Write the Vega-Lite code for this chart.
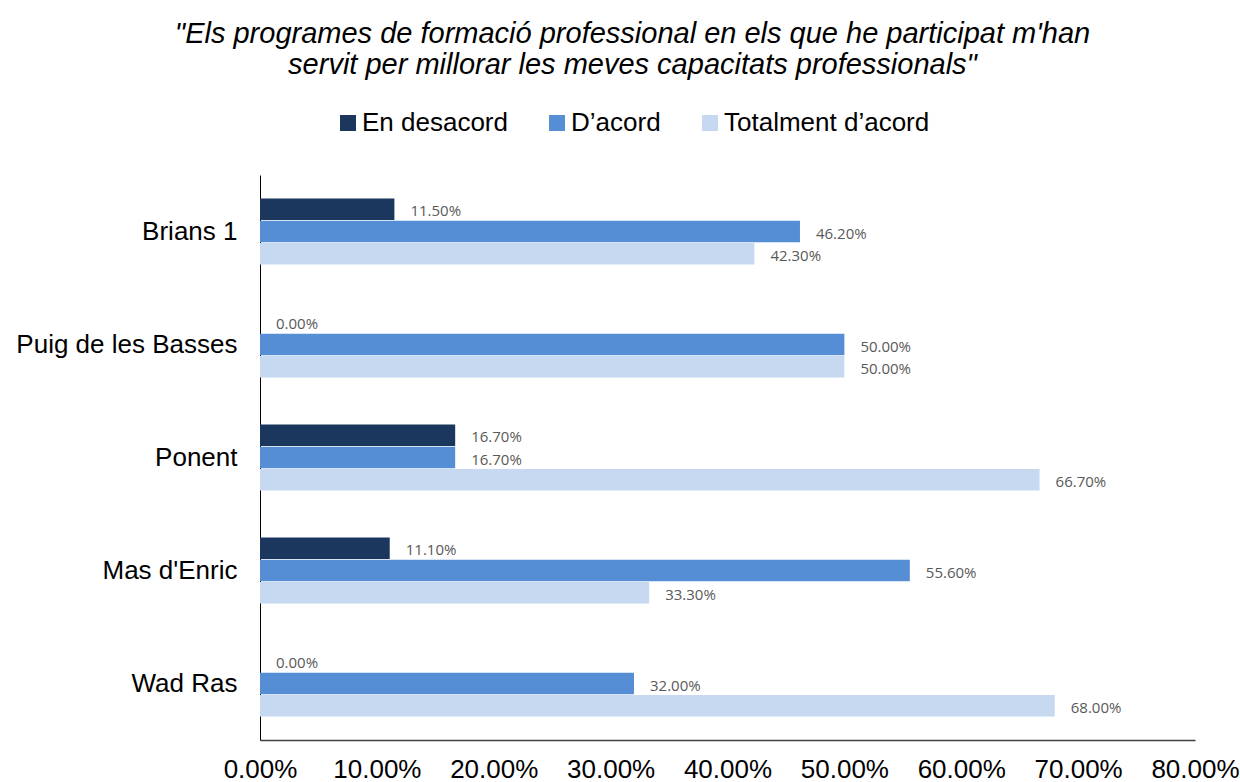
{
  "$schema": "https://vega.github.io/schema/vega-lite/v6.json",
  "autosize": {"type": "none"},
  "padding": {"left": 260, "top": 175, "right": 45, "bottom": 42},
  "width": 935,
  "height": 565,
  "background": "white",
  "title": {
    "text": ["\"Els programes de formació professional en els que he participat m'han", "servit per millorar les meves capacitats professionals\""],
    "font": "Liberation Sans",
    "fontSize": 29,
    "fontStyle": "italic",
    "fontWeight": "normal",
    "lineHeight": 31,
    "color": "#000000",
    "anchor": "middle",
    "dx": -95,
    "offset": 30
  },
  "data": {
    "values": [
      {"centre": "Brians 1", "resposta": "En desacord", "valor": 0.115},
      {"centre": "Brians 1", "resposta": "D’acord", "valor": 0.462},
      {"centre": "Brians 1", "resposta": "Totalment d’acord", "valor": 0.423},
      {"centre": "Puig de les Basses", "resposta": "En desacord", "valor": 0.0},
      {"centre": "Puig de les Basses", "resposta": "D’acord", "valor": 0.5},
      {"centre": "Puig de les Basses", "resposta": "Totalment d’acord", "valor": 0.5},
      {"centre": "Ponent", "resposta": "En desacord", "valor": 0.167},
      {"centre": "Ponent", "resposta": "D’acord", "valor": 0.167},
      {"centre": "Ponent", "resposta": "Totalment d’acord", "valor": 0.667},
      {"centre": "Mas d'Enric", "resposta": "En desacord", "valor": 0.111},
      {"centre": "Mas d'Enric", "resposta": "D’acord", "valor": 0.556},
      {"centre": "Mas d'Enric", "resposta": "Totalment d’acord", "valor": 0.333},
      {"centre": "Wad Ras", "resposta": "En desacord", "valor": 0.0},
      {"centre": "Wad Ras", "resposta": "D’acord", "valor": 0.32},
      {"centre": "Wad Ras", "resposta": "Totalment d’acord", "valor": 0.68}
    ]
  },
  "encoding": {
    "y": {
      "field": "centre",
      "type": "nominal",
      "sort": ["Brians 1", "Puig de les Basses", "Ponent", "Mas d'Enric", "Wad Ras"],
      "scale": {"paddingInner": 0.416, "paddingOuter": 0.208},
      "axis": {
        "title": null,
        "ticks": false,
        "domainColor": "#000000",
        "domainWidth": 1,
        "labelFont": "Liberation Sans",
        "labelFontSize": 26,
        "labelColor": "#000000",
        "labelPadding": 23,
        "labelLimit": 400
      }
    },
    "yOffset": {
      "field": "resposta",
      "type": "nominal",
      "sort": ["En desacord", "D’acord", "Totalment d’acord"],
      "scale": {"paddingInner": 0.03, "paddingOuter": 0}
    },
    "x": {
      "field": "valor",
      "type": "quantitative",
      "scale": {"domain": [0, 0.8], "nice": false},
      "axis": {
        "title": null,
        "format": ".2%",
        "values": [0, 0.1, 0.2, 0.3, 0.4, 0.5, 0.6, 0.7, 0.8],
        "grid": false,
        "ticks": false,
        "domainColor": "#404040",
        "domainWidth": 1.5,
        "labelFont": "Liberation Sans",
        "labelFontSize": 26,
        "labelColor": "#000000",
        "labelPadding": 16,
        "labelFlush": false,
        "labelOverlap": false
      }
    }
  },
  "layer": [
    {
      "mark": {"type": "bar"},
      "encoding": {
        "color": {
          "field": "resposta",
          "type": "nominal",
          "sort": ["En desacord", "D’acord", "Totalment d’acord"],
          "scale": {
            "domain": ["En desacord", "D’acord", "Totalment d’acord"],
            "range": ["#1c375d", "#558ed5", "#c6d9f1"]
          },
          "legend": {
            "title": null,
            "orient": "none",
            "direction": "horizontal",
            "legendX": 75,
            "legendY": -65,
            "symbolType": "square",
            "symbolSize": 256,
            "symbolStrokeWidth": 0,
            "labelFont": "Liberation Sans",
            "labelFontSize": 26,
            "labelColor": "#000000",
            "labelOffset": 1,
            "columnPadding": 36,
            "labelLimit": 400
          }
        }
      }
    },
    {
      "mark": {
        "type": "text",
        "align": "left",
        "baseline": "middle",
        "dx": 16,
        "dy": 2,
        "font": "Open Sans",
        "fontSize": 15,
        "color": "#595959"
      },
      "encoding": {
        "text": {"field": "valor", "type": "quantitative", "format": ".2%"}
      }
    }
  ],
  "config": {
    "view": {"stroke": null}
  }
}
